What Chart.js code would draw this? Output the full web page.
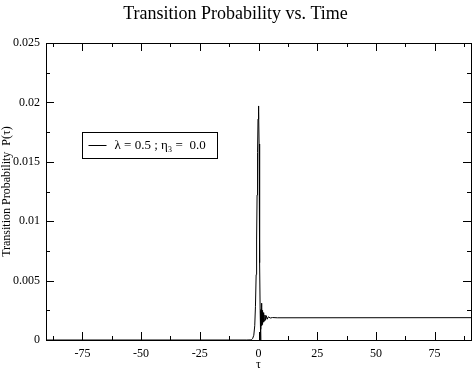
<!DOCTYPE html>
<html>
<head>
<meta charset="utf-8">
<title>Transition Probability vs. Time</title>
<script src="https://cdn.jsdelivr.net/npm/chart.js@4.4.1/dist/chart.umd.min.js"></script>
<style>
    html, body { margin: 0; padding: 0; background: #fff; }
    #wrap { width: 473px; height: 370px; position: relative; }
</style>
</head>
<body>
<div id="wrap"><canvas id="probchart"></canvas></div>
<script>
"use strict";

/* data */
var tau = [-90.5, -5, -3.5, -3, -2.5, -2, -1.6, -1.3, -1.0, -0.8, -0.6, -0.4, -0.2, 0, 0.1, 0.25, 0.4, 0.55, 0.7, 0.85, 0.95,
    1.05, 1.15, 1.25, 1.35, 1.45, 1.55, 1.65, 1.8, 1.95, 2.1, 2.3, 2.5, 2.75, 3.0, 3.3, 3.7, 4.2, 5, 6, 8, 90.5];
var prob = [0, 0, 0.00001, 0.00004, 0.00012, 0.0004, 0.0012, 0.0028, 0.0055, 0.0085, 0.0122, 0.0158, 0.0186, 0.0197, 0.0192, 0.0165, 0.0115, 0.0065, 0.0025, 0.0004, 0,
    0.0009, 0.0026, 0.0031, 0.0012, 0.0027, 0.0013, 0.0025, 0.0014, 0.0023, 0.0015, 0.0022, 0.0016, 0.0021, 0.0017, 0.00205, 0.00175, 0.00195, 0.00185, 0.00189, 0.00187, 0.00188];

var xTicks = [-75, -50, -25, 0, 25, 50, 75];
var xMinor = [-87.5, -62.5, -37.5, -12.5, 12.5, 37.5, 62.5, 87.5];
var yTicks = [0, 0.005, 0.01, 0.015, 0.02, 0.025];
var yMinor = [0.0025, 0.0075, 0.0125, 0.0175, 0.0225];
var seriesLabel = 'λ = 0.5 ; η₃ =  0.0';

var serif = '"Liberation Serif", "Times New Roman", serif';
Chart.defaults.font.family = serif;
Chart.defaults.color = '#000';

var points = tau.map(function (t, i) { return { x: t, y: prob[i] }; });

/* frame, inward ticks on all four sides, boxed legend */
var graceFrame = {
    id: 'graceFrame',
    afterDatasetsDraw: function (chart) {
        var ctx = chart.ctx;
        var a = chart.chartArea;
        var xs = chart.scales.x;
        var ys = chart.scales.y;
        ctx.save();
        ctx.strokeStyle = '#000';
        ctx.lineWidth = 1;
        ctx.strokeRect(Math.round(a.left) + 0.5, Math.round(a.top) + 0.5,
            Math.round(a.right - a.left), Math.round(a.bottom - a.top));

        function xt(v, len) {
            var p = Math.round(xs.getPixelForValue(v)) + 0.5;
            ctx.beginPath();
            ctx.moveTo(p, a.bottom); ctx.lineTo(p, a.bottom - len);
            ctx.moveTo(p, a.top); ctx.lineTo(p, a.top + len);
            ctx.stroke();
        }
        function yt(v, len) {
            var p = Math.round(ys.getPixelForValue(v)) + 0.5;
            ctx.beginPath();
            ctx.moveTo(a.left, p); ctx.lineTo(a.left + len, p);
            ctx.moveTo(a.right, p); ctx.lineTo(a.right - len, p);
            ctx.stroke();
        }
        xTicks.forEach(function (v) { xt(v, 8); });
        xMinor.forEach(function (v) { xt(v, 4); });
        yTicks.forEach(function (v) { yt(v, 8); });
        yMinor.forEach(function (v) { yt(v, 4); });

        /* legend box */
        var bx = 82.5, by = 132.5, bw = 135, bh = 26;
        ctx.fillStyle = '#fff';
        ctx.fillRect(bx, by, bw, bh);
        ctx.strokeRect(bx, by, bw, bh);
        ctx.beginPath();
        ctx.moveTo(bx + 6, by + bh / 2); ctx.lineTo(bx + 24, by + bh / 2);
        ctx.stroke();
        ctx.fillStyle = '#000';
        ctx.font = '13px ' + serif;
        ctx.textBaseline = 'middle';
        ctx.textAlign = 'left';
        ctx.fillText(chart.data.datasets[0].label, bx + 32, by + bh / 2);
        ctx.restore();
    }
};

var ctx = document.getElementById('probchart').getContext('2d');
var probChart = new Chart(ctx, {
    type: 'line',
    data: {
        datasets: [{
            label: seriesLabel,
            data: points,
            borderColor: '#000',
            borderWidth: 1,
            pointRadius: 0,
            fill: false,
            tension: 0,
        }]
    },
    options: {
        responsive: true,
        maintainAspectRatio: false,
        animation: false,
        layout: { padding: { top: 0, right: 2, bottom: 0, left: 0 } },
        plugins: {
            legend: { display: false },
            tooltip: { enabled: false },
            title: {
                display: true,
                text: 'Transition Probability vs. Time',
                color: '#000',
                font: { family: serif, size: 18, weight: 'normal' },
                padding: { top: 3, bottom: 18.4 },
            },
        },
        scales: {
            x: {
                type: 'linear',
                min: -90.5,
                max: 90.5,
                afterBuildTicks: function (s) { s.ticks = xTicks.map(function (v) { return { value: v }; }); },
                afterFit: function (s) { s.height = 30; },
                grid: { display: false, drawTicks: false },
                border: { display: false },
                ticks: {
                    color: '#000',
                    font: { family: serif, size: 12 },
                    padding: 7,
                    maxRotation: 0,
                    autoSkip: false,
                },
                title: {
                    display: true,
                    text: 'τ',
                    color: '#000',
                    font: { family: serif, size: 12 },
                    padding: { top: 0, bottom: -2 },
                }
            },
            y: {
                min: 0,
                max: 0.025,
                afterBuildTicks: function (s) { s.ticks = yTicks.map(function (v) { return { value: v }; }); },
                afterFit: function (s) { s.width = 46; },
                grid: { display: false, drawTicks: false },
                border: { display: false },
                ticks: {
                    color: '#000',
                    font: { family: serif, size: 12 },
                    padding: 6,
                    callback: function (v) { return String(+v.toFixed(4)); },
                },
                title: {
                    display: true,
                    text: 'Transition Probability  P(τ)',
                    color: '#000',
                    font: { family: serif, size: 12 },
                    padding: { top: 0, bottom: 0 },
                }
            }
        }
    },
    plugins: [graceFrame]
});
</script>
</body>
</html>
